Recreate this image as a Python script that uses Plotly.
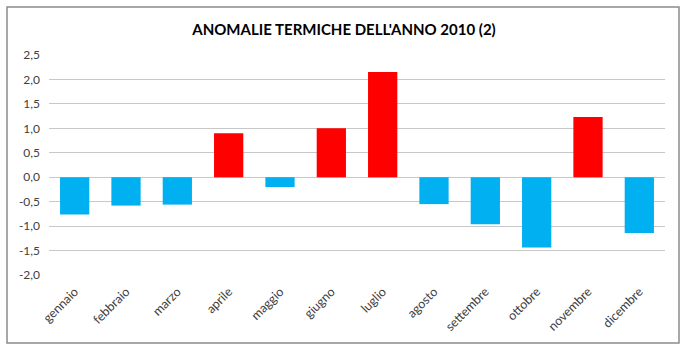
import plotly.graph_objects as go

months = ["gennaio", "febbraio", "marzo", "aprile", "maggio", "giugno",
          "luglio", "agosto", "settembre", "ottobre", "novembre", "dicembre"]
anomalies = [-0.76, -0.58, -0.56, 0.90, -0.20, 1.00,
             2.15, -0.55, -0.96, -1.44, 1.23, -1.14]
y_tickvals = [-2.0, -1.5, -1.0, -0.5, 0.0, 0.5, 1.0, 1.5, 2.0, 2.5]
y_ticktext = ["-2,0", "-1,5", "-1,0", "-0,5", "0,0", "0,5", "1,0", "1,5", "2,0", "2,5"]
title = "ANOMALIE TERMICHE DELL'ANNO 2010 (2)"

colors = ["#FF0000" if v > 0 else "#00B0F0" for v in anomalies]

fig = go.Figure(go.Bar(
    x=months, y=anomalies,
    marker=dict(color=colors, line=dict(width=0)),
    hoverinfo="x+y",
))

fig.update_layout(
    width=688, height=353,
    margin=dict(l=49, r=23, t=55, b=78),
    paper_bgcolor="white", plot_bgcolor="white",
    bargap=0.43,
    showlegend=False,
    font=dict(family="Lato, Calibri, Carlito, sans-serif", size=12, color="#404040"),
    title=dict(text="<b>" + title + "</b>", x=0.5, xref="container", xanchor="center",
               y=1 - 30 / 353, yref="container", yanchor="middle",
               font=dict(family="Lato, Calibri, sans-serif", size=15, color="black")),
    xaxis=dict(type="category", tickangle=-45, showgrid=False, showline=False,
               ticks="", ticklabelstandoff=6,
               tickfont=dict(size=12.5, color="#404040"), automargin=False),
    yaxis=dict(range=[-2.0, 2.5], tickvals=y_tickvals, ticktext=y_ticktext,
               showgrid=True, gridcolor="#C8C8C8", gridwidth=1,
               zeroline=True, zerolinecolor="#C8C8C8", zerolinewidth=1,
               showline=False, ticks="", ticklabelstandoff=8,
               tickfont=dict(size=12, color="#404040"), automargin=False),
    shapes=[dict(type="rect", xref="paper", yref="paper",
                 x0=(7 - 49) / 616, x1=(679 - 49) / 616,
                 y0=(275 - 343) / 220, y1=(275 - 7) / 220,
                 line=dict(color="#8C8C8C", width=1.5), fillcolor="rgba(0,0,0,0)",
                 layer="below")],
)

fig.write_html("out.html")
